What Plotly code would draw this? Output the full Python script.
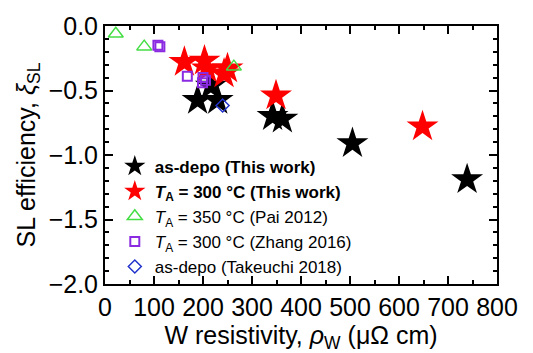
import plotly.graph_objects as go

# as-depo (This work)
asdepo_x = [189, 230, 216, 342, 362, 505, 739]
asdepo_y = [-0.575, -0.575, -0.465, -0.70, -0.72, -0.91, -1.19]
# T_A = 300 C (This work)
ta300_x = [162, 203, 208, 243, 250, 349, 648]
ta300_y = [-0.28, -0.27, -0.33, -0.37, -0.33, -0.54, -0.78]
# Pai 2012
pai_x = [22, 80, 263]
pai_y = [-0.06, -0.16, -0.315]
# Zhang 2016
zhang_x = [108, 112, 168, 200, 205, 199]
zhang_y = [-0.15, -0.16, -0.39, -0.40, -0.42, -0.44]
# Takeuchi 2018
take_x = [240]
take_y = [-0.616]

FONT = "Liberation Sans, Arial, sans-serif"

fig = go.Figure()
fig.add_trace(go.Scatter(x=asdepo_x, y=asdepo_y, mode="markers",
                         name="<b>as-depo (This work)</b>",
                         marker=dict(symbol="star", size=24, color="black")))
fig.add_trace(go.Scatter(x=ta300_x, y=ta300_y, mode="markers",
                         name="<b><i>T</i><sub>A</sub> = 300 °C (This work)</b>",
                         marker=dict(symbol="star", size=24, color="#ff0000")))
fig.add_trace(go.Scatter(x=pai_x, y=pai_y, mode="markers",
                         name="<i>T</i><sub>A</sub> = 350 °C (Pai 2012)",
                         marker=dict(symbol="triangle-up-open", size=13, color="#44dd44",
                                     line=dict(width=1.5))))
fig.add_trace(go.Scatter(x=zhang_x, y=zhang_y, mode="markers",
                         name="<i>T</i><sub>A</sub> = 300 °C (Zhang 2016)",
                         marker=dict(symbol="square-open", size=9, color="#8a2be2",
                                     line=dict(width=2))))
fig.add_trace(go.Scatter(x=take_x, y=take_y, mode="markers",
                         name="as-depo (Takeuchi 2018)",
                         marker=dict(symbol="diamond-open", size=10, color="#2233cc",
                                     line=dict(width=1.5))))

axis_common = dict(showline=True, linecolor="black", linewidth=2, mirror="ticks",
                   ticks="inside", ticklen=8, tickwidth=1.5, tickcolor="black",
                   showgrid=False, zeroline=False,
                   tickfont=dict(family=FONT, size=25, color="black"))

fig.update_xaxes(range=[0, 800], dtick=100, tick0=0,
                 minor=dict(ticks="inside", dtick=50, ticklen=4, tickcolor="black"),
                 title=dict(text="W resistivity, <i>ρ</i><sub>W</sub> (μΩ cm)",
                            font=dict(family=FONT, size=25, color="black"), standoff=2),
                 **axis_common)
fig.update_yaxes(range=[-2.0, 0.0], dtick=0.5, tick0=0, tickformat=".1f",
                 minor=dict(ticks="inside", dtick=0.1, ticklen=4, tickcolor="black"),
                 title=dict(text="SL efficiency, <i>ξ</i><sub>SL</sub>",
                            font=dict(family=FONT, size=25, color="black"), standoff=6),
                 **axis_common)

fig.update_layout(
    width=533, height=353,
    margin=dict(l=105, r=36, t=15, b=63),
    paper_bgcolor="white", plot_bgcolor="white",
    showlegend=True,
    legend=dict(x=0.025, y=0.525, xanchor="left", yanchor="top",
                bgcolor="rgba(0,0,0,0)", font=dict(family=FONT, size=17, color="black"),
                itemsizing="trace", tracegroupgap=0),
)

fig.write_html("out.html")
